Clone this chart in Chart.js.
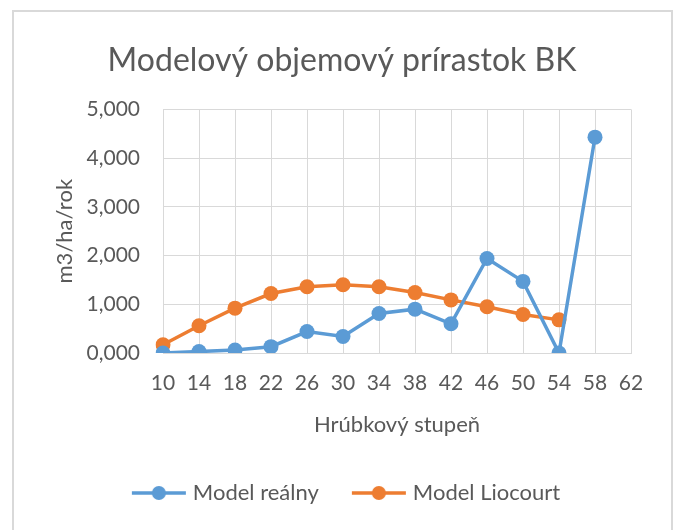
<!DOCTYPE html>
<html lang="sk">
<head>
    <meta charset="utf-8">
    <title>Modelový objemový prírastok BK</title>
    <script src="https://cdn.jsdelivr.net/npm/chart.js@4"></script>
    <style>
        html, body {
            margin: 0;
            padding: 0;
            background: #ffffff;
            overflow: hidden;
        }

        .frame {
            position: absolute;
            left: 12px;
            top: 10px;
            width: 657px;
            height: 560px;
            border: 2px solid #d9d9d9;
        }

        .wrap {
            position: absolute;
            left: 0;
            top: 0;
            width: 688px;
            height: 530px;
        }
    </style>
</head>
<body>
<div class="frame"></div>
<div class="wrap">
    <canvas id="myChart" width="688" height="530"></canvas>
</div>

<script>
    // categories (hrubkovy stupen) and series values
    var stupne = ['10', '14', '18', '22', '26', '30', '34', '38', '42', '46', '50', '54', '58', '62'];
    var modelRealny = [0.00, 0.03, 0.06, 0.13, 0.44, 0.34, 0.81, 0.90, 0.60, 1.94, 1.47, 0.00, 4.43, null];
    var modelLiocourt = [0.17, 0.56, 0.92, 1.22, 1.36, 1.40, 1.36, 1.24, 1.09, 0.95, 0.79, 0.68, null, null];
    var yTicks = [0, 1, 2, 3, 4, 5];

    var textColor = '#595959';
    var gridColor = '#d9d9d9';
    var fontName = 'Lato, "Open Sans", sans-serif';

    // legend marker: short line with a dot, like in Excel
    function legendMarker(color) {
        var c = document.createElement('canvas');
        c.width = 56;
        c.height = 16;
        var g = c.getContext('2d');
        g.strokeStyle = color;
        g.lineWidth = 3.5;
        g.beginPath();
        g.moveTo(1, 8);
        g.lineTo(55, 8);
        g.stroke();
        g.fillStyle = color;
        g.beginPath();
        g.arc(28, 8, 7, 0, Math.PI * 2);
        g.fill();
        return c;
    }

    // nudge the legend a bit to the right, Excel does not centre it exactly
    var legendShift = {
        id: 'legendShift',
        afterUpdate: function (chart) {
            if (chart.legend) {
                chart.legend.left += 6;
                chart.legend.right += 6;
            }
        }
    };

    var ctx = document.getElementById('myChart').getContext('2d');
    var chart = new Chart(ctx, {
        type: 'line',
        data: {
            labels: stupne,
            datasets: [{
                label: 'Model reálny',
                data: modelRealny,
                borderColor: '#5b9bd5',
                backgroundColor: '#5b9bd5',
                borderWidth: 3.5,
                pointRadius: 7.5,
                pointHoverRadius: 7.5,
                pointBorderWidth: 0,
                tension: 0,
                pointStyle: 'circle'
            }, {
                label: 'Model Liocourt',
                data: modelLiocourt,
                borderColor: '#ed7d31',
                backgroundColor: '#ed7d31',
                borderWidth: 3.5,
                pointRadius: 7.5,
                pointHoverRadius: 7.5,
                pointBorderWidth: 0,
                tension: 0,
                pointStyle: 'circle'
            }]
        },
        plugins: [legendShift],
        options: {
            responsive: false,
            animation: false,
            layout: {
                padding: {left: 18, right: 22, top: 0, bottom: 16}
            },
            plugins: {
                title: {
                    display: true,
                    text: 'Modelový objemový prírastok BK',
                    color: textColor,
                    font: {family: fontName, size: 32, weight: 'normal'},
                    padding: {top: 41, bottom: 30}
                },
                legend: {
                    position: 'bottom',
                    labels: {
                        color: textColor,
                        font: {family: fontName, size: 22},
                        usePointStyle: true,
                        pointStyleWidth: 46,
                        padding: 37,
                        generateLabels: function (chart) {
                            return chart.data.datasets.map(function (ds, i) {
                                return {
                                    text: ds.label,
                                    fontColor: textColor,
                                    pointStyle: legendMarker(ds.borderColor),
                                    datasetIndex: i,
                                    lineWidth: 0,
                                    hidden: false
                                };
                            });
                        }
                    }
                },
                tooltip: {enabled: false}
            },
            scales: {
                x: {
                    offset: false,
                    grid: {color: gridColor, drawTicks: false},
                    border: {color: gridColor},
                    ticks: {
                        color: textColor,
                        font: {family: fontName, size: 21},
                        padding: 18,
                        maxRotation: 0,
                        autoSkip: false
                    },
                    title: {
                        display: true,
                        text: 'Hrúbkový stupeň',
                        color: textColor,
                        font: {family: fontName, size: 22},
                        padding: {top: 14, bottom: 7}
                    },
                    afterFit: function (axis) {
                        axis.height = 92;
                    }
                },
                y: {
                    min: 0,
                    max: 5,
                    afterBuildTicks: function (axis) {
                        axis.ticks = yTicks.map(function (v) { return {value: v}; });
                    },
                    grid: {color: gridColor, drawTicks: false},
                    border: {color: gridColor},
                    ticks: {
                        color: textColor,
                        font: {family: fontName, size: 21},
                        padding: 23,
                        callback: function (v) {
                            return Number(v).toFixed(3).replace('.', ',');
                        }
                    },
                    title: {
                        display: true,
                        text: 'm3/ha/rok',
                        color: textColor,
                        font: {family: fontName, size: 22},
                        padding: {top: 34, bottom: 4}
                    },
                    afterFit: function (axis) {
                        axis.width = 145;
                    }
                },
                // empty right axis, only keeps room so the title stays centred
                yRight: {
                    position: 'right',
                    display: true,
                    min: 0,
                    max: 5,
                    grid: {display: false},
                    border: {display: false},
                    ticks: {display: false},
                    afterFit: function (axis) {
                        axis.width = 35;
                    }
                }
            }
        }
    });
</script>
</body>
</html>
